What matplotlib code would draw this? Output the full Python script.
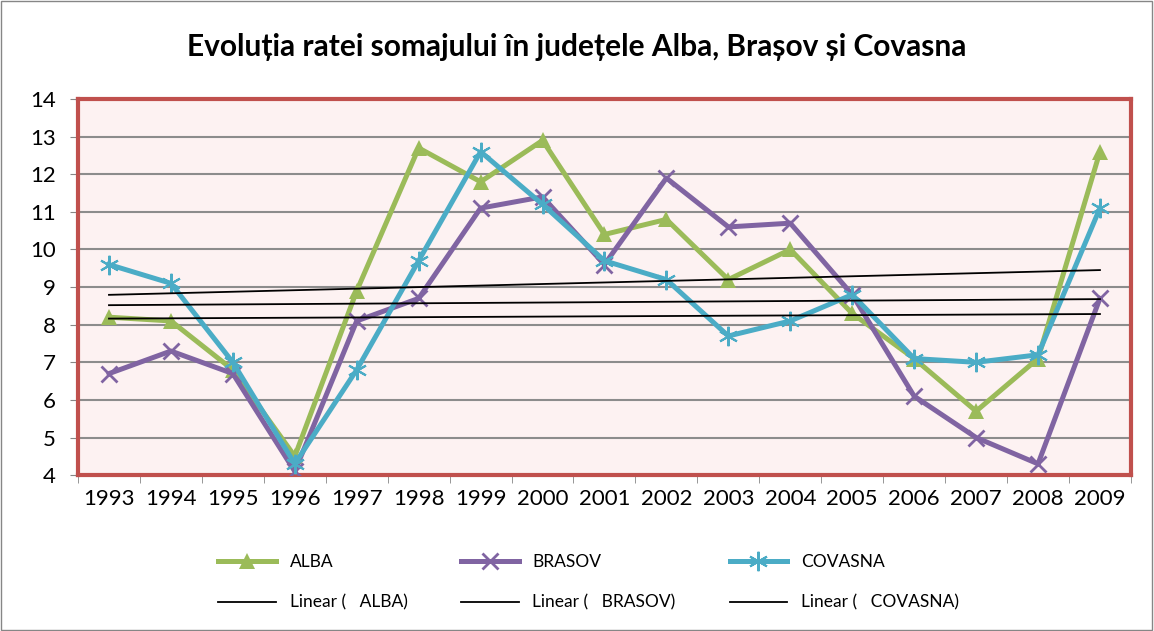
import numpy as np
import matplotlib.pyplot as plt
from matplotlib.patches import Rectangle

years = [str(y) for y in range(1993, 2010)]
alba = [8.2, 8.1, 6.8, 4.5, 8.9, 12.7, 11.8, 12.9, 10.4, 10.8, 9.2, 10.0, 8.3, 7.1, 5.7, 7.1, 12.6]
brasov = [6.7, 7.3, 6.7, 4.1, 8.1, 8.7, 11.1, 11.4, 9.6, 11.9, 10.6, 10.7, 8.8, 6.1, 5.0, 4.3, 8.7]
covasna = [9.6, 9.1, 7.0, 4.3, 6.8, 9.7, 12.6, 11.2, 9.7, 9.2, 7.7, 8.1, 8.8, 7.1, 7.0, 7.2, 11.1]

plt.rcParams['font.family'] = ['Lato', 'DejaVu Sans']

fig = plt.figure(figsize=(11.54, 6.31), dpi=100)
ax = fig.add_axes([0.0676, 0.247, 0.9124, 0.596])
ax.set_facecolor('#FDF2F2')

x = np.arange(len(years))
series = [
    ("ALBA", alba, '#9BBB59', '^', 12, 0),
    ("BRASOV", brasov, '#8064A2', 'x', 12, 2),
    ("COVASNA", covasna, '#4BACC6', (6, 2, 0), 14, 1.5),
]
handles = []
for name, vals, col, mk, ms, mew in series:
    h, = ax.plot(x, vals, color=col, lw=3.6, marker=mk, ms=ms, mew=mew,
                 mec=col, mfc=col, zorder=3, label=name)
    # Excel-style linear trendline
    k, b = np.polyfit(x, vals, 1)
    t, = ax.plot(x, k * x + b, color='black', lw=1.3, zorder=4,
                 label="Linear (   %s)" % name)
    handles += [h, t]

ax.set_ylim(4, 14)
ax.set_yticks(range(4, 15))
ax.set_xlim(-0.5, 16.5)
ax.set_xticks(x)
ax.set_xticklabels(years)
ax.set_xticks(np.arange(-0.5, 17, 1), minor=True)
ax.tick_params(axis='x', which='major', length=0, labelsize=16, pad=10)
ax.tick_params(axis='x', which='minor', length=6, color='#868686', direction='out')
ax.tick_params(axis='y', length=6, color='#868686', labelsize=16, pad=10)
ax.grid(axis='y', color='#8C8C8C', lw=1.5, zorder=1)
ax.set_axisbelow(True)
for s in ax.spines.values():
    s.set_color('#C0504D')
    s.set_linewidth(3)

fig.text(0.5, 0.925, "Evoluția ratei somajului în județele Alba, Brașov și Covasna",
         ha='center', va='center', fontsize=21.5, fontweight='bold')

fig.legend(handles=handles, loc='center', bbox_to_anchor=(0.51, 0.077), ncol=3,
           frameon=False, fontsize=12.5, handlelength=3.3, columnspacing=3.1,
           labelspacing=1.4)

fig.patches.append(Rectangle((0.001, 0.002), 0.997, 0.996, transform=fig.transFigure,
                             fill=False, ec='#868686', lw=1))

fig.savefig('out.png', dpi=100)
